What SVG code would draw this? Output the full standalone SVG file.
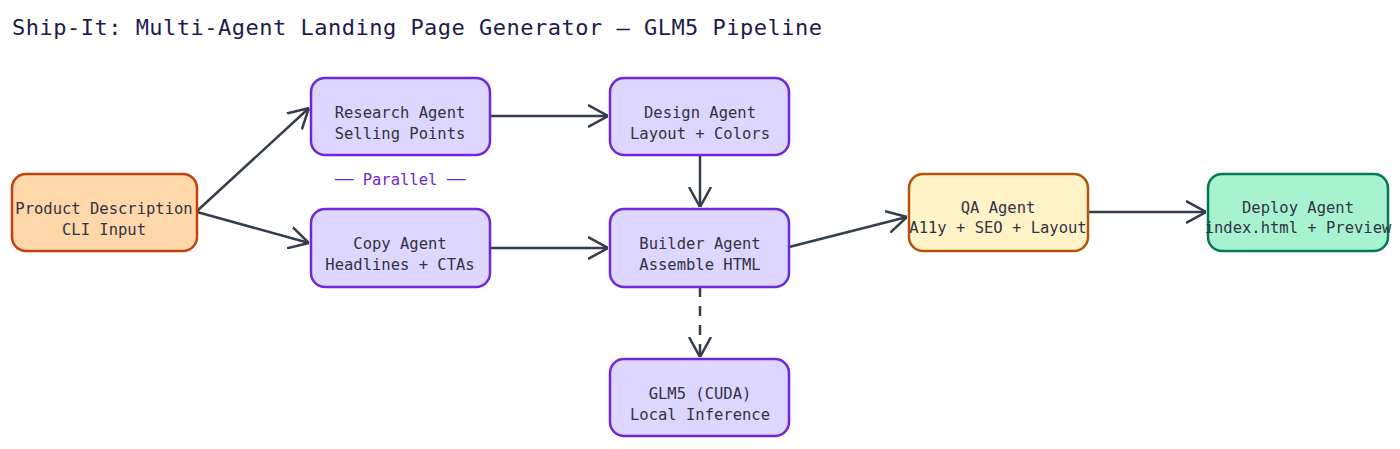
<svg xmlns="http://www.w3.org/2000/svg" width="1400" height="449" viewBox="0 0 1400 449">
<style>
text{font-family:"DejaVu Sans Mono","Liberation Mono",monospace;font-size:15.5px;fill:#333344;text-anchor:middle}
.n rect{stroke-width:2.5}
.p rect{fill:#ddd6fe;stroke:#6d28d9}
.c path{fill:none;stroke:#333d4b;stroke-width:2.5}
</style>
<defs>
<marker id="a" viewBox="0 0 20 24" refX="20" refY="12" markerWidth="20" markerHeight="24" markerUnits="userSpaceOnUse" orient="auto">
<path d="M0,1 L20,12 L0,23" fill="none" stroke="#333d4b" stroke-width="2.5"/>
</marker>
</defs>
<rect width="1400" height="449" fill="#fff"/>
<text x="12" y="35" style="text-anchor:start;font-size:22px;fill:#1e1b4b" textLength="810">Ship-It: Multi-Agent Landing Page Generator — GLM5 Pipeline</text>
<g class="c">
<path d="M197,211 L309,108" marker-end="url(#a)"/>
<path d="M197,212 L309,243" marker-end="url(#a)"/>
<path d="M490,116 L608,116" marker-end="url(#a)"/>
<path d="M490,248 L608,248" marker-end="url(#a)"/>
<path d="M700,155 L700,207" marker-end="url(#a)"/>
<path d="M789,247 L907,217" marker-end="url(#a)"/>
<path d="M1088,212 L1206,212" marker-end="url(#a)"/>
<path d="M700,287 L700,357" stroke-dasharray="10,9" marker-end="url(#a)"/>
</g>
<text x="400" y="185" style="fill:#6d28d9">── Parallel ──</text>
<g id="product" class="n"><rect x="12" y="174" width="185" height="77" rx="14" fill="#fed7aa" stroke="#c2410c"/><text x="104" y="214">Product Description</text><text x="104" y="235">CLI Input</text></g>
<g id="research" class="n p"><rect x="311" y="78" width="179" height="77" rx="14"/><text x="400" y="118">Research Agent</text><text x="400" y="139">Selling Points</text></g>
<g id="copy" class="n p"><rect x="311" y="209" width="179" height="78" rx="14"/><text x="400" y="249">Copy Agent</text><text x="400" y="270">Headlines + CTAs</text></g>
<g id="design" class="n p"><rect x="610" y="78" width="179" height="77" rx="14"/><text x="700" y="118">Design Agent</text><text x="700" y="139">Layout + Colors</text></g>
<g id="builder" class="n p"><rect x="610" y="209" width="179" height="78" rx="14"/><text x="700" y="249">Builder Agent</text><text x="700" y="270">Assemble HTML</text></g>
<g id="glm5" class="n p"><rect x="610" y="359" width="179" height="77" rx="14"/><text x="700" y="399">GLM5 (CUDA)</text><text x="700" y="420">Local Inference</text></g>
<g id="qa" class="n"><rect x="909" y="174" width="179" height="77" rx="14" fill="#fef3c7" stroke="#b45309"/><text x="998" y="213">QA Agent</text><text x="998" y="233">A11y + SEO + Layout</text></g>
<g id="deploy" class="n"><rect x="1208" y="174" width="180" height="77" rx="14" fill="#a7f3d0" stroke="#047857"/><text x="1298" y="213">Deploy Agent</text><text x="1298" y="233">index.html + Preview</text></g>
</svg>
